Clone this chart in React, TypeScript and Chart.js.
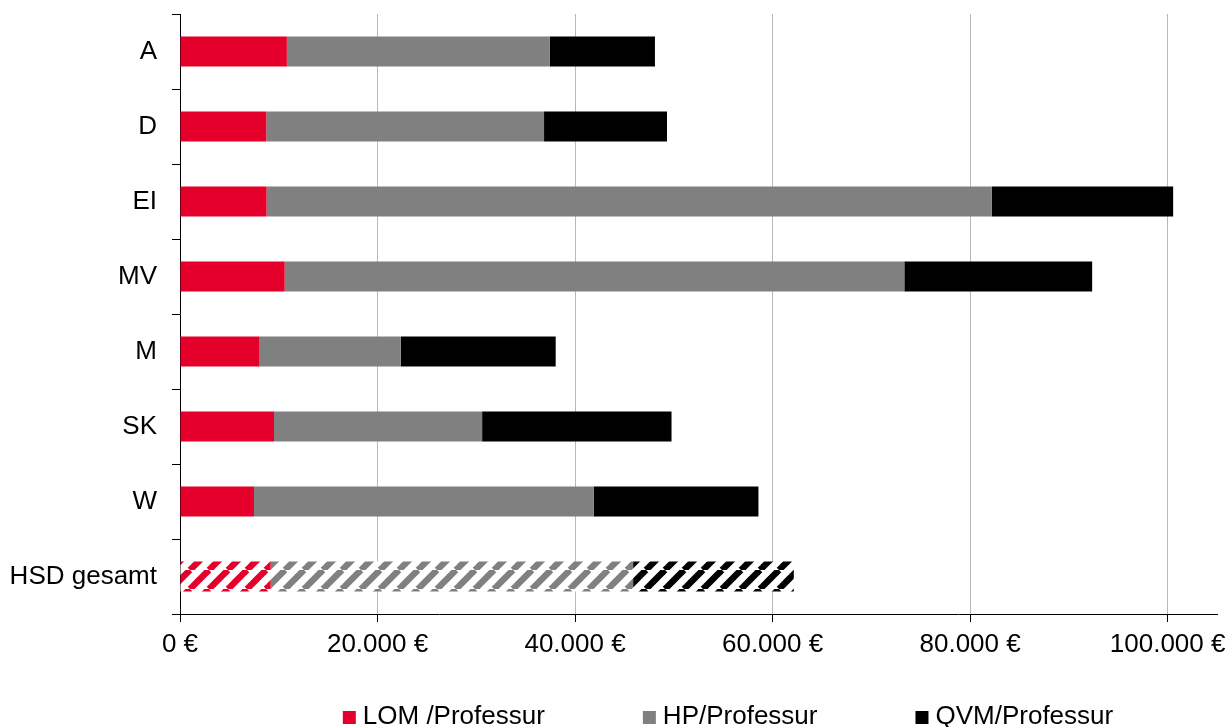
import React, { useEffect, useRef } from "react";
import { Chart, registerables } from "chart.js";

Chart.register(...registerables);

const categories = ["A", "D", "EI", "MV", "M", "SK", "W", "HSD gesamt"];
const seriesNames = ["LOM /Professur", "HP/Professur", "QVM/Professur"];
const lomValues = [10820, 8740, 8770, 10600, 8060, 9520, 7490, 9180];
const hpValues = [26610, 28120, 73410, 62740, 14300, 21070, 34390, 36700];
const qvmValues = [10660, 12450, 18380, 19020, 15680, 19180, 16690, 16270];
const xTickValues = [0, 20000, 40000, 60000, 80000, 100000];
const xTickLabels = ["0 €", "20.000 €", "40.000 €", "60.000 €", "80.000 €", "100.000 €"];

const seriesColors = ["#E4002B", "#808080", "#000000"];
const FONT = "'Liberation Sans', Arial, sans-serif";
const FONT_SIZE = 26;
const HATCH_INDEX = categories.length - 1;

function makeHatch(color: string): CanvasPattern | string {
  const s = 19;
  const c = document.createElement("canvas");
  c.width = s;
  c.height = s;
  const g = c.getContext("2d");
  if (!g) return color;
  g.fillStyle = "#ffffff";
  g.fillRect(0, 0, s, s);
  g.strokeStyle = color;
  g.lineWidth = 6.5;
  for (let k = -1; k <= 1; k++) {
    g.beginPath();
    g.moveTo(k * s, s);
    g.lineTo(k * s + s, 0);
    g.stroke();
  }
  const p = g.createPattern(c, "repeat");
  return p || color;
}

const legendPlugin = {
  id: "customLegend",
  afterDraw(chart: any) {
    const ctx = chart.ctx;
    ctx.save();
    ctx.font = `${FONT_SIZE}px ${FONT}`;
    const box = 13;
    const gapText = 7;
    const gapItem = 98;
    const widths = seriesNames.map((n) => ctx.measureText(n).width);
    const total = widths.reduce((a, w) => a + box + gapText + w, 0) + gapItem * (seriesNames.length - 1);
    let x = 728 - total / 2;
    const baseline = 724;
    ctx.textBaseline = "alphabetic";
    ctx.textAlign = "left";
    seriesNames.forEach((n, i) => {
      ctx.fillStyle = seriesColors[i];
      ctx.fillRect(x, baseline - box, box, box);
      ctx.fillStyle = "#000";
      ctx.fillText(n, x + box + gapText, baseline);
      x += box + gapText + widths[i] + gapItem;
    });
    ctx.restore();
  },
};

export default function App() {
  const ref = useRef<HTMLCanvasElement | null>(null);

  useEffect(() => {
    if (!ref.current) return;
    Chart.defaults.font.family = FONT;
    const seriesValues = [lomValues, hpValues, qvmValues];
    const hatches = seriesColors.map((c) => makeHatch(c));
    const chart = new Chart(ref.current, {
      type: "bar",
      data: {
        labels: categories,
        datasets: seriesValues.map((vals, i) => ({
          label: seriesNames[i],
          data: vals,
          backgroundColor: (ctx: any) =>
            ctx.dataIndex === HATCH_INDEX ? hatches[i] : seriesColors[i],
          borderWidth: 0,
          barPercentage: 0.4,
          categoryPercentage: 1,
        })),
      },
      options: {
        indexAxis: "y",
        animation: false,
        responsive: true,
        maintainAspectRatio: false,
        layout: { padding: { top: 14, right: 14, left: 0, bottom: 0 } },
        plugins: {
          legend: { display: false },
          tooltip: { enabled: false },
        },
        scales: {
          x: {
            stacked: true,
            min: 0,
            max: 105000,
            grid: {
              color: "#B8B8B8",
              tickColor: "#000000",
              tickLength: 8,
              lineWidth: 1,
            },
            border: { color: "#000000", width: 1 },
            ticks: {
              stepSize: 20000,
              color: "#000000",
              font: { size: FONT_SIZE },
              padding: 7,
              maxRotation: 0,
              callback: (v: any) => {
                const i = xTickValues.indexOf(Number(v));
                return i >= 0 ? xTickLabels[i] : "";
              },
            },
            afterBuildTicks: (s: any) => {
              s.ticks = xTickValues.map((v) => ({ value: v }));
            },
            afterFit: (s: any) => {
              s.height = 113;
              s.paddingRight = 0;
              s.paddingLeft = 0;
            },
          },
          y: {
            stacked: true,
            grid: {
              drawOnChartArea: false,
              offset: true,
              tickLength: 8,
              color: "#000000",
              tickColor: "#000000",
            },
            border: { color: "#000000", width: 1 },
            ticks: {
              color: "#000000",
              font: { size: FONT_SIZE },
              padding: 15,
            },
            afterFit: (s: any) => {
              s.width = 180;
              s.paddingTop = 0;
              s.paddingBottom = 0;
            },
          },
        },
      },
      plugins: [legendPlugin],
    } as any);
    return () => chart.destroy();
  }, []);

  return (
    <div style={{ position: "absolute", left: 0, top: 0, width: 1231, height: 727, background: "#fff" }}>
      <canvas ref={ref} />
    </div>
  );
}
